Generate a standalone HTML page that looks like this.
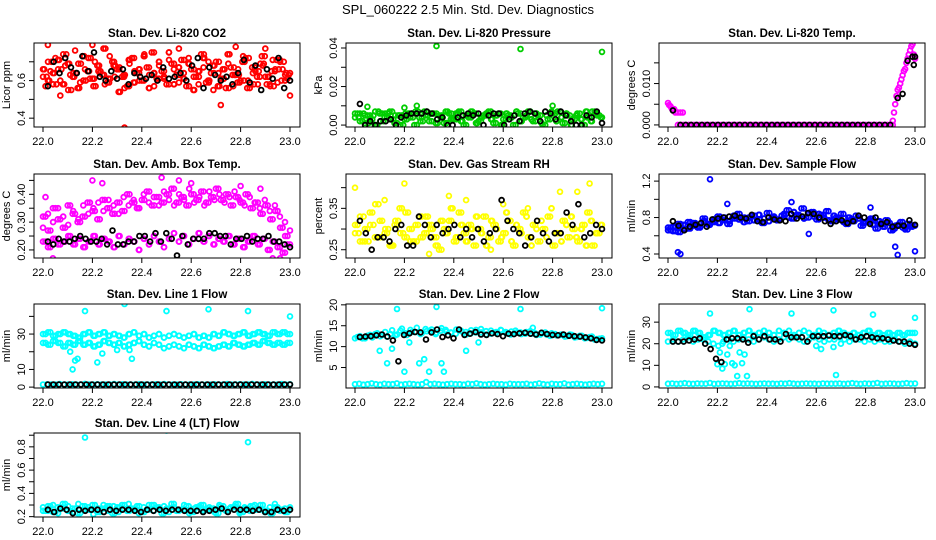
<!DOCTYPE html>
<html><head><meta charset="utf-8"><style>
html,body{margin:0;padding:0;background:#fff;}
svg{display:block;font-family:"Liberation Sans",sans-serif;}
</style></head><body>
<svg id="chart" width="936" height="540" viewBox="0 0 936 540" xmlns="http://www.w3.org/2000/svg">
<rect width="936" height="540" fill="#fff"/>
<text x="468" y="14" text-anchor="middle" font-size="13">SPL_060222  2.5 Min. Std. Dev. Diagnostics</text>
</svg>
<script>
// ---------- data ----------
const xTicks = [22.0, 22.2, 22.4, 22.6, 22.8, 23.0];
const xTickLabels = ["22.0","22.2","22.4","22.6","22.8","23.0"];

// Panel 1: CO2
const co2RedA = [0.62,0.70,0.58,0.66,0.74,0.55,0.64,0.69,0.60,0.72,0.57,0.65,0.77,0.61,0.68,0.54,0.63,0.71,0.59,0.66,0.73,0.56,0.64,0.70,0.62,0.75,0.58,0.67,0.61,0.69,0.55,0.65,0.72,0.60,0.68,0.57,0.66,0.74,0.63,0.59,0.70,0.56,0.67,0.62,0.73,0.58,0.65,0.71,0.60,0.64];
const co2RedB = [0.57,0.65,0.72,0.60,0.68,0.63,0.76,0.59,0.66,0.61,0.70,0.64,0.58,0.73,0.62,0.67,0.56,0.69,0.65,0.60,0.74,0.63,0.57,0.68,0.61,0.71,0.66,0.59,0.64,0.72,0.62,0.58,0.67,0.70,0.55,0.64,0.61,0.69,0.57,0.66,0.73,0.60,0.64,0.58,0.68,0.62,0.71,0.59,0.66,0.61];
const co2RedC = [0.66,0.60,0.64,0.71,0.58,0.69,0.62,0.56,0.73,0.65,0.61,0.68,0.63,0.59,0.70,0.66,0.62,0.57,0.72,0.64,0.60,0.67,0.75,0.61,0.65,0.58,0.69,0.63,0.71,0.57,0.66,0.62,0.74,0.59,0.64,0.70,0.61,0.56,0.67,0.63,0.60,0.72,0.58,0.65,0.69,0.62,0.57,0.66,0.70,0.63];
const co2OutX = [22.02,22.07,22.20,22.33,22.55,22.72,22.78,22.90,23.0];
const co2OutY = [0.79,0.52,0.79,0.35,0.77,0.47,0.78,0.77,0.52];
const co2Black = [0.57,0.70,0.64,0.72,0.67,0.64,0.73,0.65,0.75,0.62,0.60,0.65,0.61,0.66,0.58,0.64,0.62,0.61,0.63,0.60,0.67,0.61,0.62,0.64,0.60,0.68,0.72,0.56,0.67,0.63,0.60,0.62,0.58,0.64,0.71,0.59,0.68,0.55,0.66,0.61,0.72,0.56,0.60];

// Panel 2: Pressure
const presGreenA = [0.004,0.006,0.001,0.005,0.007,0.002,0.006,0.003,0.005,0.000,0.006,0.004,0.007,0.002,0.005,0.006,0.001,0.004,0.007,0.003,0.006,0.002,0.005,0.007,0.001,0.004,0.006,0.003,0.005,0.000,0.006,0.004,0.007,0.002,0.005,0.003,0.006,0.001,0.005,0.007,0.002,0.004,0.006,0.000,0.005,0.003,0.007,0.002,0.006,0.004];
const presGreenB = [0.006,0.002,0.005,0.003,0.000,0.006,0.004,0.007,0.001,0.005,0.003,0.006,0.000,0.004,0.007,0.002,0.006,0.005,0.001,0.006,0.003,0.007,0.000,0.004,0.006,0.002,0.005,0.007,0.001,0.006,0.003,0.005,0.000,0.006,0.004,0.007,0.002,0.005,0.000,0.003,0.006,0.007,0.001,0.005,0.003,0.006,0.000,0.004,0.007,0.005];
const presOutX = [22.05,22.20,22.25,22.33,22.67,22.80,23.0];
const presOutY = [0.0095,0.009,0.010,0.041,0.0395,0.010,0.038];
const presBlack = [0.011,0.0,0.002,0.0,0.002,0.002,0.003,0.0,0.004,0.005,0.006,0.006,0.006,0.007,0.006,0.003,0.004,0.0,0.0,0.004,0.005,0.006,0.005,0.006,0.0,0.005,0.006,0.006,0.0,0.003,0.005,0.002,0.006,0.007,0.006,0.002,0.007,0.006,0.003,0.007,0.005,0.002,0.0,0.0,0.005,0.004,0.007,0.001];

// Panel 3: Temp
const tempFlat = [0,0,0,0,0,0,0,0,0,0,0,0,0,0,0,0,0,0,0,0,0,0,0,0,0,0,0,0,0,0,0,0,0,0,0,0,0,0,0,0,0,0,0,0,0,0,0,0,0,0,0,0,0,0,0,0,0,0,0,0,0,0,0,0,0,0,0,0,0,0,0,0,0,0,0,0,0,0,0,0];
const tempEarlyX = [22.0,22.005,22.01,22.015,22.02,22.025,22.03,22.04,22.05,22.06];
const tempEarlyY = [0.0053,0.0048,0.0045,0.0040,0.0035,0.0038,0.0030,0.0030,0.0030,0.0030];
const tempLateX = [22.91,22.915,22.92,22.925,22.93,22.935,22.94,22.945,22.95,22.955,22.96,22.965,22.97,22.975,22.98,22.985,22.99,22.995,23.0];
const tempLateY = [0.001,0.003,0.005,0.007,0.0085,0.009,0.010,0.011,0.012,0.013,0.0135,0.015,0.016,0.017,0.018,0.019,0.0195,0.017,0.016];
const tempBlackFlat = [0,0,0,0,0,0,0,0,0,0,0,0,0,0,0,0,0,0,0,0,0,0,0,0,0,0,0,0,0,0,0,0,0,0,0,0,0,0,0,0];
const tempBlackX = [22.02,22.93,22.95,22.97,22.99,22.995,23.0];
const tempBlackY = [0.0035,0.0065,0.0075,0.0155,0.0165,0.0145,0.0165];

// Panel 4: Amb box temp
const ambUpA = [0.28,0.33,0.30,0.35,0.32,0.29,0.34,0.31,0.36,0.33,0.35,0.37,0.34,0.38,0.36,0.33,0.39,0.36,0.38,0.35,0.40,0.37,0.39,0.36,0.41,0.38,0.36,0.40,0.38,0.42,0.37,0.39,0.36,0.41,0.38,0.40,0.37,0.39,0.41,0.38,0.36,0.39,0.37,0.35,0.38,0.34,0.36,0.32,0.30,0.27];
const ambUpB = [0.32,0.27,0.35,0.31,0.28,0.36,0.33,0.30,0.32,0.37,0.34,0.31,0.38,0.35,0.33,0.37,0.34,0.40,0.37,0.35,0.38,0.41,0.36,0.39,0.37,0.40,0.42,0.37,0.39,0.36,0.40,0.38,0.41,0.37,0.39,0.42,0.38,0.40,0.36,0.39,0.37,0.40,0.35,0.37,0.33,0.36,0.31,0.34,0.28,0.25];
const ambLow = [0.23,0.21,0.24,0.22,0.23,0.25,0.22,0.24,0.21,0.23,0.25,0.22,0.24,0.23,0.21,0.25,0.22,0.24,0.23,0.20,0.24,0.22,0.25,0.23,0.21,0.24,0.26,0.23,0.25,0.22,0.24,0.26,0.23,0.25,0.22,0.24,0.23,0.25,0.22,0.24,0.21,0.23,0.25,0.22,0.24,0.20,0.23,0.21,0.19,0.22];
const ambOutX = [22.01,22.04,22.2,22.24,22.48,22.55,22.6,22.8,22.88,22.93,22.96];
const ambOutY = [0.39,0.17,0.45,0.44,0.46,0.45,0.44,0.43,0.42,0.17,0.17];
const ambBlack = [0.23,0.22,0.24,0.23,0.23,0.24,0.25,0.24,0.23,0.23,0.24,0.22,0.27,0.22,0.22,0.23,0.23,0.25,0.25,0.23,0.26,0.23,0.26,0.24,0.18,0.25,0.22,0.24,0.24,0.24,0.26,0.26,0.25,0.25,0.22,0.24,0.24,0.25,0.23,0.24,0.24,0.25,0.23,0.23,0.22,0.21];

// Panel 5: RH
const rhA = [0.29,0.33,0.27,0.31,0.36,0.28,0.30,0.26,0.32,0.29,0.34,0.27,0.31,0.28,0.33,0.30,0.26,0.32,0.29,0.35,0.28,0.31,0.27,0.30,0.33,0.29,0.26,0.32,0.30,0.28,0.34,0.27,0.31,0.29,0.33,0.26,0.30,0.32,0.28,0.35,0.29,0.27,0.31,0.33,0.28,0.30,0.26,0.32,0.29,0.31];
const rhB = [0.31,0.27,0.30,0.34,0.28,0.32,0.29,0.26,0.31,0.35,0.28,0.30,0.27,0.33,0.29,0.31,0.28,0.25,0.30,0.32,0.27,0.34,0.29,0.31,0.26,0.30,0.33,0.28,0.31,0.27,0.29,0.32,0.26,0.30,0.34,0.28,0.31,0.27,0.30,0.33,0.26,0.29,0.32,0.28,0.30,0.27,0.31,0.34,0.26,0.29];
const rhOutX = [22.0,22.2,22.12,22.45,22.6,22.83,22.9,22.95,22.7,22.3,22.55,22.38];
const rhOutY = [0.40,0.41,0.37,0.37,0.36,0.39,0.39,0.41,0.35,0.24,0.25,0.38];
const rhBlack = [0.32,0.29,0.25,0.28,0.28,0.27,0.30,0.31,0.26,0.26,0.33,0.31,0.28,0.31,0.29,0.30,0.31,0.28,0.30,0.28,0.30,0.27,0.29,0.30,0.37,0.32,0.30,0.29,0.26,0.28,0.32,0.29,0.27,0.29,0.29,0.34,0.31,0.36,0.28,0.29,0.31,0.30];

// Panel 6: Sample flow
const sfA = [0.66,0.70,0.64,0.72,0.68,0.74,0.70,0.76,0.72,0.78,0.74,0.80,0.76,0.82,0.78,0.75,0.80,0.77,0.83,0.79,0.76,0.81,0.78,0.84,0.80,0.86,0.82,0.79,0.85,0.81,0.84,0.80,0.77,0.82,0.78,0.75,0.80,0.76,0.79,0.74,0.77,0.72,0.76,0.70,0.74,0.68,0.72,0.69,0.73,0.71];
const sfB = [0.69,0.65,0.73,0.67,0.75,0.71,0.69,0.79,0.73,0.75,0.81,0.77,0.73,0.79,0.84,0.80,0.76,0.82,0.78,0.74,0.85,0.80,0.77,0.82,0.88,0.79,0.83,0.90,0.80,0.86,0.78,0.83,0.87,0.76,0.80,0.84,0.73,0.78,0.82,0.71,0.75,0.79,0.68,0.73,0.77,0.66,0.71,0.75,0.67,0.70];
const sfOutX = [22.04,22.05,22.17,22.24,22.5,22.57,22.92,22.93,23.0,22.82];
const sfOutY = [0.42,0.40,1.22,0.95,0.97,0.62,0.48,0.39,0.43,0.91];
const sfBlack = [0.76,0.71,0.66,0.70,0.72,0.74,0.70,0.78,0.79,0.80,0.81,0.82,0.80,0.79,0.83,0.76,0.75,0.80,0.78,0.77,0.76,0.84,0.79,0.81,0.85,0.84,0.80,0.76,0.73,0.76,0.77,0.74,0.76,0.82,0.80,0.73,0.80,0.73,0.75,0.70,0.71,0.71,0.77,0.72];

// Panel 7: Line 1
const l1Up = [30,31,29,30,31,30,29,28,30,31,29,30,31,29,30,29,28,30,31,29,30,28,29,30,28,29,30,29,28,29,30,28,29,28,30,29,31,30,29,30,31,29,30,31,30,29,31,30,31,30];
const l1Low = [25,24,26,25,23,25,24,26,24,25,23,24,26,25,24,25,23,24,25,26,24,23,25,24,22,23,24,23,22,24,23,22,24,23,22,23,24,23,25,24,23,24,25,24,26,25,24,25,24,25];
const l1Bottom = [1.5,1.6,1.4,1.5,1.7,1.5,1.4,1.6,1.5,1.5,1.8,1.4,1.5,1.6,1.5,1.4,1.5,1.7,1.5,1.6,1.5,1.4,1.5,1.6,1.5,1.5,1.4,1.6,1.5,1.7,1.5,1.4,1.5,1.6,1.5,1.5,1.4,1.6,1.5,1.5,1.5,1.6,1.4,1.5,1.7,1.5,1.4,1.6,1.5,1.5,1.8,1.4,1.5,1.6,1.5,1.4,1.5,1.7,1.5,1.6];
const l1OutX = [22.17,22.33,22.50,22.67,22.83,23.0,22.11,22.12,22.13,22.14,22.22,22.24,22.30,22.35,22.36];
const l1OutY = [43,47,43,44,43,40,20,10,15,16,14,19,21,21,16];
const l1Black = [1.5,1.5,1.5,1.5,1.5,1.5,1.5,1.5,1.5,1.5,1.5,1.5,1.5,1.5,1.5,1.5,1.5,1.5,1.5,1.5,1.5,1.5,1.5,1.5,1.5,1.5,1.5,1.5,1.5,1.5,1.5,1.5,1.5,1.5,1.5,1.5,1.5,1.5,1.5,1.5,1.5,1.5,1.5,1.5,1.5];

// Panel 8: Line 2
const l2A = [12,12.5,12,12.8,13,12.5,13.5,13,12.7,13.8,13.2,14,13.5,13,14.2,13.6,13,13.8,14,13.4,13.1,13.8,13.5,13.2,14,13.4,13.7,13.1,13.5,13.9,13.2,13.6,13.3,13,13.5,13.1,12.8,13.3,12.9,13.2,12.7,12.9,12.5,12.8,12.3,12.6,12.1,12.4,11.8,12];
const l2B = [12.3,12,12.6,12.2,13.2,12.8,12.4,13.9,12.9,14.3,12.8,13.5,14.5,13.2,13.7,14.1,13.3,14.4,13.6,13.3,14.1,13.7,12.9,13.9,13.4,14.2,12.9,13.8,13.3,14,13.5,12.9,13.8,13.4,13.1,13.7,13.2,12.9,13.4,12.6,13,12.8,12.4,12.9,12.2,12.6,12,12.3,11.7,11.9];
const l2Bottom = [1.0,1.1,0.9,1.0,1.2,1.0,0.9,1.1,1.0,1.0,1.2,0.9,1.0,1.1,1.0,0.9,1.0,1.5,1.0,1.1,1.0,0.9,1.0,1.1,1.0,1.0,0.9,1.1,1.0,1.2,1.0,0.9,1.0,1.1,1.0,1.0,0.9,1.1,1.0,1.0,1.0,1.1,0.9,1.0,1.2,1.0,0.9,1.1,1.0,1.0,1.2,0.9,1.0,1.1,1.0,0.9,1.0,1.1,1.0,1.1];
const l2OutX = [22.17,22.33,22.67,23.0,22.13,22.2,22.26,22.28,22.3,22.35,22.36,22.1,22.15,22.22,22.45,22.5,22.72];
const l2OutY = [19,19.5,19,19.2,6,4,6,7,4,6,4,9,9.5,11,9,11,14.5];
const l2Black = [12.3,12.4,12.5,12.7,12.9,12.4,11.5,6.5,12.8,13.2,13.5,13.4,11.7,13.4,14.1,12.3,12.7,12,14.1,12.8,13.1,13.5,12.9,12.8,13.2,13.0,12.5,13.1,13.0,13.2,13.3,13.1,12.9,13.3,13.0,12.8,12.7,12.9,12.6,12.5,12.4,12.2,12.0,11.6,11.5];

// Panel 9: Line 3
const l3A = [25,24,26,25,24,26,25,23,24,26,25,24,25,26,24,25,26,24,25,26,25,24,26,25,26,24,25,26,25,24,26,25,24,25,26,25,24,25,24,25,26,24,25,24,25,24,25,24,25,25];
const l3B = [21,22,21,22,23,21,22,22,21,20,19,21,22,21,22,23,22,21,22,23,22,21,22,23,22,23,22,21,22,23,22,21,22,22,23,22,21,22,22,21,22,21,22,21,21,22,21,20,21,20];
const l3Bottom = [1.5,1.6,1.4,1.5,1.7,1.5,1.4,1.6,1.5,1.5,1.8,1.4,1.5,1.6,1.5,1.4,1.5,1.7,1.5,1.6,1.5,1.4,1.5,1.6,1.5,1.5,1.4,1.6,1.5,1.7,1.5,1.4,1.5,1.6,1.5,1.5,1.4,1.6,1.5,1.5,1.5,1.6,1.4,1.5,1.7,1.5,1.4,1.6,1.5,1.5,1.8,1.4,1.5,1.6,1.5,1.4,1.5,1.7,1.5,1.6];
const l3OutX = [22.17,22.33,22.5,22.67,22.83,23.0,22.2,22.21,22.22,22.23,22.24,22.25,22.26,22.27,22.28,22.29,22.30,22.31,22.32,22.22,22.6,22.62,22.67,22.68,22.70];
const l3OutY = [34,36,34,35.5,33.5,32,10.5,16,8.5,10.5,15,19,11,10,5,16,11,15,5,20,19,17.5,18.5,5.5,20];
const l3Black = [21,21,21,21.5,22,22.5,20,17.5,13,11.5,22,22.5,22.5,22,20.5,23.5,22,23.5,22,22,21,24.5,23,23,23,21,23.5,23.5,23.5,23.8,23.5,23.5,24,23.5,22,23,23.5,23,22.5,22.5,22,21.5,21,21,20,19.5];

// Panel 10: Line 4
const l4A = [0.28,0.25,0.30,0.23,0.27,0.29,0.24,0.31,0.26,0.28,0.22,0.27,0.30,0.25,0.29,0.24,0.27,0.31,0.26,0.23,0.28,0.30,0.25,0.27,0.29,0.24,0.28,0.26,0.30,0.23,0.27,0.29,0.25,0.28,0.24,0.30,0.26,0.27,0.29,0.23,0.28,0.25,0.30,0.26,0.24,0.28,0.31,0.25,0.27,0.28];
const l4B = [0.25,0.29,0.24,0.28,0.31,0.25,0.27,0.23,0.29,0.26,0.30,0.24,0.27,0.29,0.23,0.28,0.30,0.25,0.27,0.29,0.24,0.26,0.30,0.28,0.23,0.27,0.31,0.25,0.26,0.29,0.24,0.28,0.30,0.26,0.27,0.23,0.29,0.25,0.28,0.31,0.24,0.27,0.29,0.26,0.30,0.25,0.23,0.28,0.26,0.24];
const l4OutX = [22.17,22.5,22.83];
const l4OutY = [0.88,0.94,0.84];
const l4Black = [0.26,0.24,0.27,0.26,0.23,0.26,0.25,0.26,0.26,0.24,0.26,0.25,0.26,0.26,0.25,0.24,0.26,0.25,0.26,0.25,0.26,0.26,0.25,0.25,0.25,0.24,0.25,0.26,0.27,0.24,0.26,0.26,0.26,0.25,0.26,0.24,0.24,0.26,0.25,0.26];

// ---------- layout / panels ----------
const RED="#ff0000",GRN="#00cd00",MAG="#ff00ff",YEL="#ffff00",BLU="#0000ff",CYN="#00ffff",BLK="#000000";
function ev(ys,x0,x1){return {ys:ys,x0:x0,x1:x1};}
function ex(xs,ys){return {xs:xs,ys:ys};}
const panels = [
 {name:"co2",title:"Stan. Dev. Li-820 CO2",ylab:"Licor ppm",col:0,row:0,ymin:0.353,ymax:0.8,ticks:[0.4,0.5,0.6,0.7],labels:["0.4","","0.6",""],
  layers:[[RED,ev(co2RedA,22.0,23.0)],[RED,ev(co2RedB,22.01,22.99)],[RED,ev(co2RedC,22.005,22.995)],[RED,ev(co2RedA,22.015,22.985)],[RED,ev(co2RedC,22.0,22.98)],[RED,ex(co2OutX,co2OutY)],[BLK,ev(co2Black,22.02,23.0)]]},
 {name:"pressure",title:"Stan. Dev. Li-820 Pressure",ylab:"kPa",col:1,row:0,ymin:-0.001,ymax:0.0426,ticks:[0,0.01,0.02,0.03,0.04],labels:["0.00","","0.02","","0.04"],
  layers:[[GRN,ev(presGreenA,22.0,23.0)],[GRN,ev(presGreenB,22.01,22.99)],[GRN,ev(presGreenB,22.0,22.98)],[GRN,ev(presGreenA,22.015,22.995)],[GRN,ex(presOutX,presOutY)],[BLK,ev(presBlack,22.02,23.0)]]},
 {name:"temp",title:"Stan. Dev. Li-820 Temp.",ylab:"degrees C",col:2,row:0,ymin:-0.0005,ymax:0.0198,ticks:[0,0.005,0.01,0.015],labels:["0.000","","0.010",""],
  layers:[[MAG,ev(tempFlat,22.04,22.91)],[MAG,ex(tempEarlyX,tempEarlyY)],[MAG,ex(tempLateX,tempLateY)],[BLK,ev(tempBlackFlat,22.05,22.9)],[BLK,ex(tempBlackX,tempBlackY)]]},
 {name:"amb-temp",title:"Stan. Dev. Amb. Box Temp.",ylab:"degrees C",col:0,row:1,ymin:0.171,ymax:0.473,ticks:[0.2,0.25,0.3,0.35,0.4,0.45],labels:["0.20","","0.30","","0.40",""],
  layers:[[MAG,ev(ambUpA,22.0,23.0)],[MAG,ev(ambUpB,22.01,22.99)],[MAG,ev(ambUpB,22.0,22.98)],[MAG,ev(ambLow,22.0,23.0)],[MAG,ev(ambLow,22.01,22.99)],[MAG,ex(ambOutX,ambOutY)],[BLK,ev(ambBlack,22.02,23.0)]]},
 {name:"rh",title:"Stan. Dev. Gas Stream RH",ylab:"percent",col:1,row:1,ymin:0.23,ymax:0.433,ticks:[0.25,0.3,0.35,0.4],labels:["0.25","","0.35",""],
  layers:[[YEL,ev(rhA,22.0,23.0)],[YEL,ev(rhB,22.01,22.99)],[YEL,ev(rhB,22.0,22.98)],[YEL,ev(rhA,22.015,22.995)],[YEL,ex(rhOutX,rhOutY)],[BLK,ev(rhBlack,22.02,23.0)]]},
 {name:"sample-flow",title:"Stan. Dev. Sample Flow",ylab:"ml/min",col:2,row:1,ymin:0.356,ymax:1.278,ticks:[0.4,0.6,0.8,1.0,1.2],labels:["0.4","","0.8","","1.2"],
  layers:[[BLU,ev(sfA,22.0,23.0)],[BLU,ev(sfB,22.01,22.99)],[BLU,ev(sfA,22.01,22.99)],[BLU,ev(sfB,22.0,22.98)],[BLU,ex(sfOutX,sfOutY)],[BLK,ev(sfBlack,22.02,23.0)]]},
 {name:"line1",title:"Stan. Dev. Line 1 Flow",ylab:"ml/min",col:0,row:2,ymin:-0.5,ymax:47,ticks:[0,10,20,30,40],labels:["0","10","","30",""],
  layers:[[CYN,ev(l1Up,22.0,23.0)],[CYN,ev(l1Up,22.01,22.99)],[CYN,ev(l1Low,22.0,23.0)],[CYN,ev(l1Low,22.01,22.99)],[CYN,ev(l1Bottom,22.0,23.0)],[CYN,ex(l1OutX,l1OutY)],[BLK,ev(l1Black,22.02,23.0)]]},
 {name:"line2",title:"Stan. Dev. Line 2 Flow",ylab:"ml/min",col:1,row:2,ymin:0.1,ymax:20.2,ticks:[5,10,15,20],labels:["5","10","15","20"],
  layers:[[CYN,ev(l2A,22.0,23.0)],[CYN,ev(l2B,22.01,22.99)],[CYN,ev(l2Bottom,22.0,23.0)],[CYN,ex(l2OutX,l2OutY)],[BLK,ev(l2Black,22.02,23.0)]]},
 {name:"line3",title:"Stan. Dev. Line 3 Flow",ylab:"ml/min",col:2,row:2,ymin:-0.5,ymax:38.4,ticks:[0,10,20,30],labels:["0","10","20","30"],
  layers:[[CYN,ev(l3A,22.0,23.0)],[CYN,ev(l3A,22.01,22.99)],[CYN,ev(l3B,22.0,23.0)],[CYN,ev(l3Bottom,22.0,23.0)],[CYN,ex(l3OutX,l3OutY)],[BLK,ev(l3Black,22.02,23.0)]]},
 {name:"line4",title:"Stan. Dev. Line 4 (LT) Flow",ylab:"ml/min",col:0,row:3,ymin:0.197,ymax:0.919,ticks:[0.2,0.3,0.4,0.5,0.6,0.7,0.8,0.9],labels:["0.2","","0.4","","0.6","","0.8",""],
  layers:[[CYN,ev(l4A,22.0,23.0)],[CYN,ev(l4B,22.01,22.99)],[CYN,ev(l4B,22.0,22.98)],[CYN,ex(l4OutX,l4OutY)],[BLK,ev(l4Black,22.02,23.0)]]}
];
const colOff=[0,312,625], rowTop=[43,174,304,433], boxH=84;
const NS="http://www.w3.org/2000/svg";
const svg=document.getElementById('chart');
function mk(tag,attrs,parent){const e=document.createElementNS(NS,tag);for(const k in attrs)e.setAttribute(k,attrs[k]);(parent||svg).appendChild(e);return e;}

panels.forEach(p=>{
  const bx0=34+colOff[p.col], bx1=300+colOff[p.col];
  const by0=rowTop[p.row], by1=rowTop[p.row]+boxH;
  const xs=v=>43+colOff[p.col]+(v-22.0)*247;
  const ys=v=>by1-(v-p.ymin)/(p.ymax-p.ymin)*(by1-by0);
  const g=mk('g',{});
  
  
  const clip=mk('clipPath',{id:'c-'+p.name},g);
  mk('rect',{x:bx0,y:by0,width:bx1-bx0,height:by1-by0},clip);
  const pts=mk('g',{'clip-path':'url(#c-'+p.name+')',fill:'none','stroke-width':1.8},g);
  
  
  p.layers.forEach(([color,s])=>{
    const n=s.ys.length;
    for(let i=0;i<n;i++){
      const xv = s.xs ? s.xs[i] : s.x0+(s.x1-s.x0)*(n>1?i/(n-1):0);
      const c=mk('circle',{cx:xs(xv).toFixed(1),cy:ys(s.ys[i]).toFixed(1),r:2.4,stroke:color},pts);
      
      
    }
  });
  const box=mk('rect',{x:bx0,y:by0,width:bx1-bx0,height:by1-by0,fill:'none',stroke:'#000','stroke-width':1},g);
  
  
  const t=mk('text',{x:(bx0+bx1)/2,y:by0-6,'text-anchor':'middle','font-size':11.5,'font-weight':'bold'},g);
  t.textContent=p.title;
  
  
  // x axis
  const xa=mk('g',{},g);
  
  
  mk('line',{x1:xs(xTicks[0]),x2:xs(xTicks[xTicks.length-1]),y1:by1,y2:by1,stroke:'#000'},xa);
  xTicks.forEach((v,i)=>{
    mk('line',{x1:xs(v),x2:xs(v),y1:by1,y2:by1+5,stroke:'#000'},xa);
    const tl=mk('text',{x:xs(v),y:by1+18,'text-anchor':'middle','font-size':11},xa);
    tl.textContent=xTickLabels[i];
    
    
  });
  // y axis
  const ya=mk('g',{},g);
  
  
  mk('line',{x1:bx0,x2:bx0,y1:ys(p.ticks[0]),y2:ys(p.ticks[p.ticks.length-1]),stroke:'#000'},ya);
  p.ticks.forEach((v,i)=>{
    const y=ys(v);
    mk('line',{x1:bx0-5,x2:bx0,y1:y,y2:y,stroke:'#000'},ya);
    if(p.labels[i]){
      const tl=mk('text',{x:bx0-9,y:y,'text-anchor':'middle','font-size':11,transform:`rotate(-90 ${bx0-9} ${y})`},ya);
      tl.textContent=p.labels[i];
      
      
    }
  });
  const yl=mk('text',{x:bx0-24,y:(by0+by1)/2,'text-anchor':'middle','font-size':11,transform:`rotate(-90 ${bx0-24} ${(by0+by1)/2})`},ya);
  yl.textContent=p.ylab;
  
  
});
</script>
</body></html>
